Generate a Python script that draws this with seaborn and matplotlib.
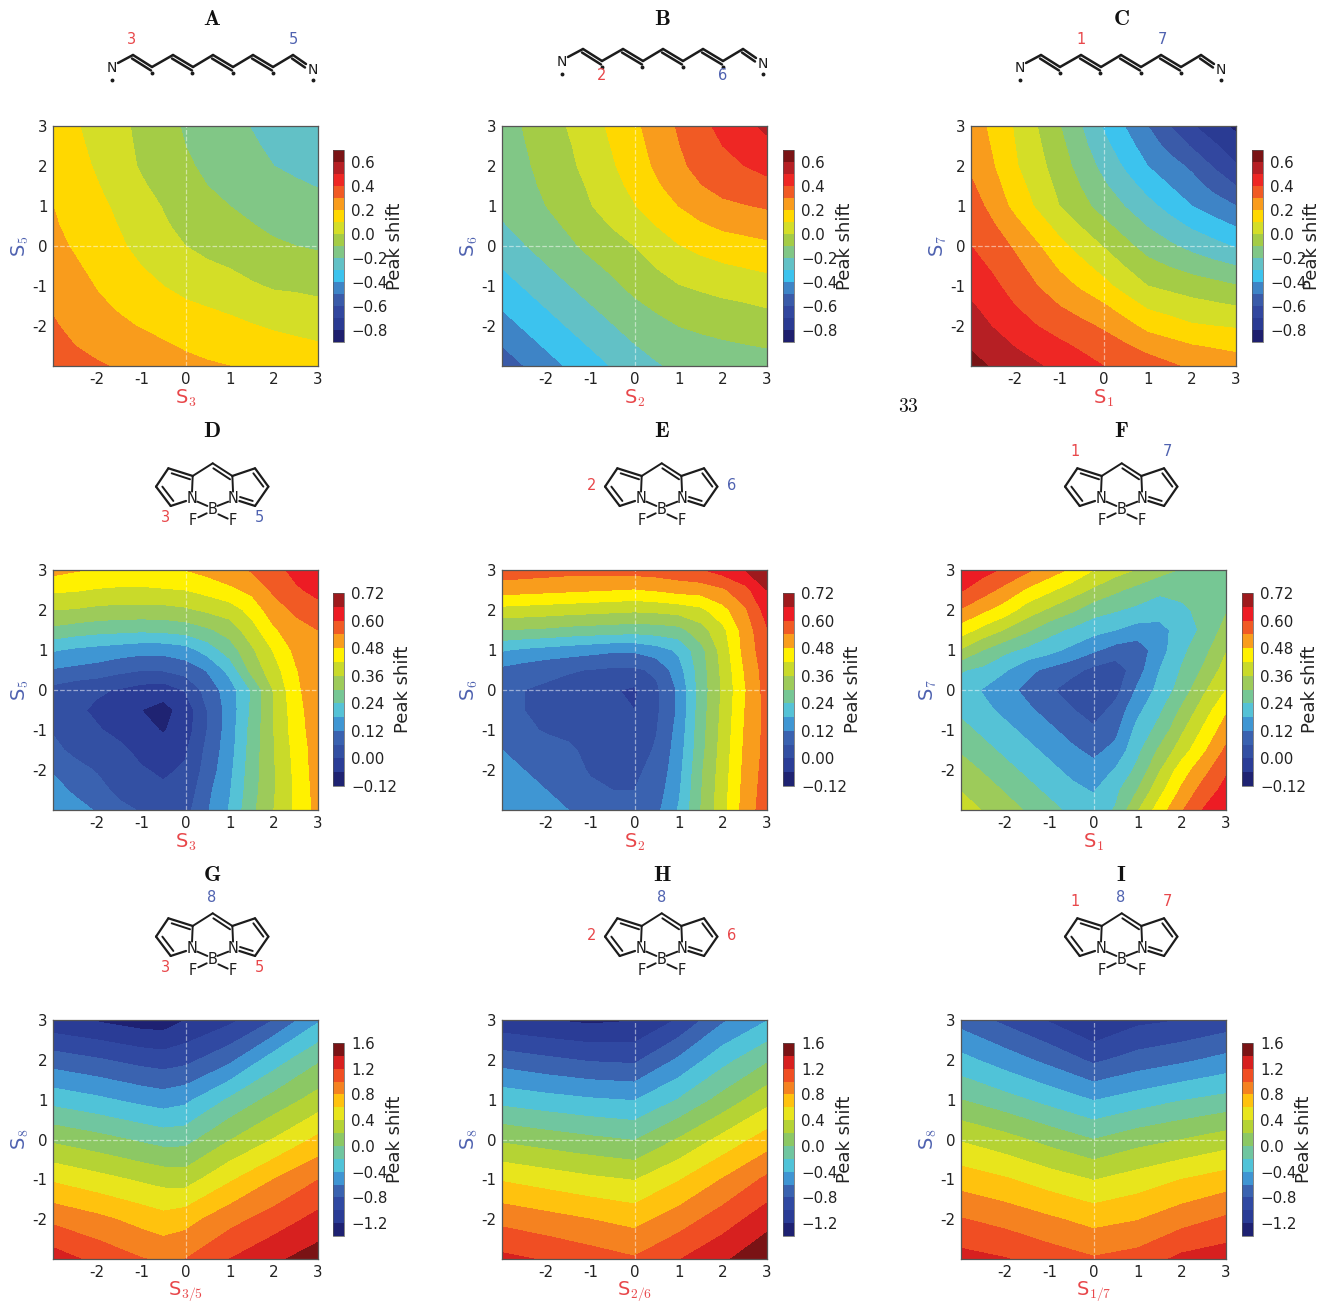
import numpy as np
import matplotlib
matplotlib.use("Agg")
import matplotlib.pyplot as plt
import seaborn as sns

# axis grids
S_INT = [-3, -2, -1, 0, 1, 2, 3]
S_HALF = [-3, -2.5, -2, -1.5, -1, -0.5, 0, 0.5, 1, 1.5, 2, 2.5, 3]
S_G = [-3, -2, -1, -0.5, 0, 1, 2, 3]
S_ROWS_INT = [3, 2, 1, 0, -1, -2, -3]
S_ROWS_HALF = [3, 2.5, 2, 1.5, 1, 0.5, 0, -0.5, -1, -1.5, -2, -2.5, -3]

# peak shift, rows from top (y=3) to bottom (y=-3)
Z_A = [[.15, .108, .07, .02, -.02, -.07, -.11, -.145, -.175, -.203, -.23, -.252, -.27],
       [.155, .118, .08, .03, -.017, -.06, -.10, -.133, -.163, -.19, -.215, -.235, -.252],
       [.165, .13, .09, .04, -.01, -.05, -.085, -.12, -.15, -.175, -.2, -.215, -.23],
       [.18, .145, .105, .06, .012, -.03, -.068, -.10, -.125, -.15, -.175, -.19, -.203],
       [.2, .165, .125, .08, .035, -.005, -.045, -.075, -.10, -.125, -.15, -.163, -.175],
       [.21, .175, .14, .097, .05, .012, -.025, -.05, -.075, -.095, -.12, -.13, -.145],
       [.225, .19, .155, .115, .07, .03, 0, -.025, -.045, -.065, -.085, -.1, -.11],
       [.245, .21, .175, .14, .10, .065, .03, .012, -.005, -.03, -.05, -.06, -.07],
       [.27, .23, .195, .165, .13, .10, .07, .05, .035, .01, -.01, -.015, -.025],
       [.29, .25, .215, .19, .165, .14, .115, .097, .08, .06, .04, .03, .02],
       [.31, .275, .24, .215, .195, .175, .155, .14, .125, .105, .09, .08, .07],
       [.335, .30, .275, .25, .23, .21, .19, .175, .165, .145, .13, .118, .108],
       [.36, .335, .31, .29, .27, .245, .225, .21, .2, .18, .165, .155, .15]]

Z_B = [[-.145, -.095, -.045, .005, .06, .12, .18, .245, .31, .37, .43, .475, .52],
       [-.15, -.105, -.06, -.01, .045, .105, .165, .23, .295, .355, .40, .44, .475],
       [-.16, -.115, -.07, -.02, .03, .09, .15, .215, .28, .33, .37, .40, .43],
       [-.17, -.125, -.085, -.04, .012, .068, .125, .185, .245, .295, .33, .35, .37],
       [-.18, -.14, -.10, -.055, -.005, .045, .095, .15, .2, .245, .28, .295, .31],
       [-.21, -.17, -.13, -.088, -.04, .005, .05, .10, .15, .185, .215, .23, .245],
       [-.245, -.205, -.165, -.12, -.075, -.04, 0, .05, .095, .125, .15, .165, .18],
       [-.295, -.25, -.205, -.16, -.12, -.08, -.04, .005, .045, .07, .09, .105, .12],
       [-.34, -.295, -.25, -.205, -.16, -.12, -.075, -.04, -.005, .015, .03, .045, .06],
       [-.39, -.34, -.295, -.25, -.205, -.165, -.12, -.085, -.055, -.04, -.02, -.01, .005],
       [-.44, -.39, -.34, -.295, -.25, -.205, -.165, -.13, -.1, -.085, -.07, -.055, -.045],
       [-.5, -.44, -.39, -.34, -.295, -.25, -.205, -.17, -.14, -.125, -.115, -.105, -.095],
       [-.56, -.5, -.44, -.39, -.34, -.295, -.245, -.21, -.18, -.17, -.16, -.15, -.145]]

Z_C = [[.25, .175, .09, 0, -.095, -.2, -.31, -.405, -.5, -.6, -.69, -.76, -.82],
       [.265, .19, .10, .017, -.07, -.17, -.27, -.36, -.45, -.53, -.61, -.685, -.76],
       [.28, .205, .11, .035, -.05, -.14, -.23, -.315, -.40, -.46, -.52, -.61, -.69],
       [.315, .235, .14, .06, -.025, -.105, -.185, -.26, -.335, -.40, -.46, -.53, -.60],
       [.35, .265, .17, .085, 0, -.07, -.14, -.205, -.27, -.335, -.40, -.45, -.50],
       [.375, .31, .23, .15, .065, -.005, -.075, -.14, -.205, -.26, -.315, -.36, -.405],
       [.40, .35, .285, .21, .13, .06, -.005, -.075, -.14, -.185, -.23, -.27, -.31],
       [.435, .385, .325, .26, .185, .125, .06, -.005, -.07, -.105, -.14, -.17, -.20],
       [.47, .42, .36, .30, .24, .185, .13, .06, 0, -.025, -.05, -.07, -.095],
       [.51, .46, .40, .35, .30, .255, .21, .15, .085, .06, .035, .017, 0],
       [.55, .495, .44, .40, .36, .325, .285, .23, .17, .14, .11, .10, .09],
       [.59, .545, .495, .455, .42, .385, .35, .31, .265, .235, .205, .19, .175],
       [.63, .59, .55, .51, .47, .435, .40, .375, .35, .315, .28, .265, .25]]

Z_D = [[.50, .485, .475, .47, .465, .47, .48, .50, .525, .545, .575, .62, .65],
       [.43, .425, .415, .41, .41, .415, .42, .44, .465, .495, .55, .59, .62],
       [.36, .355, .345, .34, .34, .34, .35, .37, .39, .44, .515, .55, .575],
       [.285, .27, .26, .255, .25, .255, .265, .29, .325, .395, .47, .52, .54],
       [.185, .17, .16, .15, .14, .14, .155, .205, .27, .35, .425, .495, .535],
       [.115, .105, .095, .075, .062, .065, .085, .125, .20, .32, .395, .475, .53],
       [.04, .02, .008, -.005, -.025, -.035, .005, .085, .15, .245, .365, .465, .525],
       [.04, .01, -.01, -.025, -.06, -.08, -.035, .062, .145, .25, .36, .455, .52],
       [.055, .025, .005, -.015, -.04, -.065, -.03, .062, .15, .26, .36, .45, .515],
       [.075, .045, .03, .012, -.015, -.035, -.008, .075, .155, .265, .358, .44, .51],
       [.115, .08, .055, .03, .005, -.01, .008, .085, .165, .27, .355, .435, .51],
       [.14, .11, .08, .045, .025, .01, .02, .105, .175, .275, .355, .43, .505],
       [.165, .14, .115, .075, .055, .04, .04, .115, .185, .285, .36, .43, .50]]

Z_E = [[.575, .57, .565, .56, .56, .56, .565, .57, .58, .595, .625, .66, .71],
       [.505, .50, .495, .49, .485, .48, .475, .485, .50, .505, .53, .58, .66],
       [.40, .395, .39, .385, .38, .375, .37, .375, .385, .405, .46, .53, .625],
       [.30, .295, .29, .28, .275, .27, .265, .27, .28, .335, .405, .505, .595],
       [.185, .17, .16, .15, .14, .13, .13, .155, .19, .28, .385, .50, .58],
       [.105, .09, .075, .065, .058, .05, .05, .07, .155, .27, .375, .485, .57],
       [.08, .06, .05, .04, .03, .005, -.01, .05, .13, .265, .37, .475, .565],
       [.075, .06, .045, .035, .025, .008, 0, .05, .13, .27, .375, .48, .56],
       [.085, .07, .055, .045, .03, .025, .03, .058, .14, .275, .38, .485, .56],
       [.12, .095, .08, .07, .045, .035, .04, .065, .15, .28, .385, .49, .56],
       [.135, .12, .10, .08, .055, .045, .05, .075, .16, .29, .39, .495, .565],
       [.15, .135, .12, .095, .07, .06, .06, .09, .17, .295, .395, .50, .57],
       [.165, .15, .135, .12, .085, .075, .08, .105, .185, .30, .40, .505, .575]]

Z_F = [[.64, .62, .59, .55, .51, .47, .42, .385, .355, .32, .295, .28, .27],
       [.605, .565, .52, .47, .43, .39, .35, .31, .28, .255, .255, .265, .28],
       [.535, .49, .45, .39, .35, .31, .265, .245, .225, .20, .23, .255, .295],
       [.45, .40, .355, .31, .26, .23, .20, .18, .155, .165, .20, .255, .32],
       [.355, .30, .255, .225, .20, .165, .13, .095, .085, .155, .225, .28, .355],
       [.245, .225, .185, .135, .105, .08, .045, .025, .095, .18, .245, .31, .385],
       [.21, .175, .14, .105, .07, .03, -.002, .04, .13, .20, .265, .35, .42],
       [.225, .195, .165, .13, .10, .065, .03, .08, .165, .23, .31, .39, .47],
       [.26, .225, .195, .165, .13, .10, .07, .105, .20, .26, .35, .43, .51],
       [.293, .26, .225, .195, .165, .13, .105, .135, .225, .31, .39, .47, .55],
       [.325, .295, .26, .225, .195, .165, .14, .185, .255, .355, .45, .52, .59],
       [.357, .325, .295, .26, .225, .195, .175, .225, .30, .40, .49, .565, .62],
       [.39, .357, .325, .293, .26, .225, .21, .245, .355, .45, .535, .605, .64]]

Z_G = [[-1.15, -1.22, -1.30, -1.31, -1.20, -1.05, -.80, -.43],
       [-.70, -.78, -.87, -.90, -.86, -.65, -.30, -.03],
       [-.275, -.36, -.46, -.50, -.45, -.17, .07, .28],
       [.16, .07, -.03, -.08, -.07, .19, .41, .645],
       [.57, .47, .37, .325, .31, .57, .80, .995],
       [.95, .85, .73, .67, .72, .93, 1.09, 1.26],
       [1.30, 1.14, 1.01, .97, 1.0, 1.2, 1.36, 1.50]]

Z_H = [[-1.15, -1.20, -1.24, -1.21, -.98, -.63, -.41],
       [-.69, -.76, -.82, -.84, -.57, -.27, -.03],
       [-.27, -.33, -.38, -.41, -.19, .07, .33],
       [.165, .10, .04, -.01, .215, .46, .69],
       [.58, .51, .44, .39, .585, .81, 1.04],
       [.94, .87, .80, .73, .90, 1.10, 1.31],
       [1.25, 1.18, 1.10, 1.02, 1.19, 1.36, 1.58]]

Z_I = [[-.68, -.85, -1.02, -1.21, -1.05, -1.0, -.92],
       [-.34, -.5, -.66, -.84, -.72, -.64, -.54],
       [0, -.13, -.27, -.41, -.31, -.21, -.14],
       [.38, .27, .13, 0, .12, .2, .295],
       [.71, .62, .5, .39, .49, .6, .69],
       [1.01, .93, .83, .73, .79, .92, 1.03],
       [1.27, 1.21, 1.11, 1.02, 1.08, 1.25, 1.31]]

# contour levels and band colours, one set per row of panels
LEVELS_1 = [-.9, -.8, -.7, -.6, -.5, -.4, -.3, -.2, -.1, 0, .1, .2, .3, .4, .5, .6, .7]
LEVELS_2 = [-.12, -.06, 0, .06, .12, .18, .24, .30, .36, .42, .48, .54, .60, .66, .72]
LEVELS_3 = [-1.4, -1.2, -1, -.8, -.6, -.4, -.2, 0, .2, .4, .6, .8, 1, 1.2, 1.4, 1.6]
COLORS_1 = ['#1e1f6e', '#2a3b93', '#32479f', '#3a5ba9', '#3e84c6', '#3cc3ee', '#62c1c6', '#81c786',
            '#a4cc46', '#d4de27', '#ffd800', '#f99c1c', '#f15a24', '#ee2724', '#b61f24', '#7a1315']
COLORS_2 = ['#1f2372', '#2b3d97', '#3350a3', '#3a62b0', '#3f96d3', '#55c2d6', '#76c794',
            '#9dcb5a', '#c9da2a', '#fff100', '#f99d1c', '#f15a24', '#ed1c24', '#9e1a1d']
COLORS_3 = ['#1e2172', '#2a3c96', '#3049a2', '#3a63b0', '#3f95d3', '#50c3d8', '#70c6a0', '#8cc864',
            '#b5d334', '#e8e51c', '#ffc20e', '#f58220', '#f04e23', '#d7201f', '#7a1315']
TICKS_1 = [-.8, -.6, -.4, -.2, 0, .2, .4, .6]
TICKS_2 = [-.12, 0, .12, .24, .36, .48, .60, .72]
TICKS_3 = [-1.2, -.8, -.4, 0, .4, .8, 1.2, 1.6]

RED = '#e8474a'
BLUE = '#4f62b0'
W, H = 1320, 1303

sns.set_style("ticks")
plt.rcParams['axes.unicode_minus'] = False
plt.rcParams['mathtext.fontset'] = 'cm'
plt.rcParams['font.family'] = ['DejaVu Sans']

fig = plt.figure(figsize=(W / 100, H / 100), dpi=100)


def rect(x0, y0, x1, y1):
    return [x0 / W, 1 - y1 / H, (x1 - x0) / W, (y1 - y0) / H]


def panel(box, cbox, xs, ys, z, levels, colors, ticks, fmt, xlab, ylab, peak_x):
    ax = fig.add_axes(rect(*box))
    cs = ax.contourf(xs, ys[::-1], np.array(z)[::-1], levels=levels, colors=sns.color_palette(colors))
    ax.axhline(0, color='white', ls='--', lw=0.9, alpha=0.5)
    ax.axvline(0, color='white', ls='--', lw=0.9, alpha=0.5)
    ax.set_xlim(-3, 3)
    ax.set_ylim(-3, 3)
    ax.set_xticks([-2, -1, 0, 1, 2, 3])
    ax.set_yticks([-2, -1, 0, 1, 2, 3])
    ax.tick_params(direction='in', top=True, right=True, length=3, width=0.7, color='#666666',
                   labelsize=10.8, labelcolor='#222222', pad=4)
    for s in ax.spines.values():
        s.set_color('#555555')
        s.set_linewidth(0.9)
    ax.set_xlabel(xlab, color=RED, fontsize=14, va='center')
    ax.xaxis.set_label_coords(0.5, -32 / (box[3] - box[1]))
    ax.set_ylabel(ylab, color=BLUE, fontsize=14, va='center')
    ax.yaxis.set_label_coords(-33 / (box[2] - box[0]), 0.5)

    cax = fig.add_axes(rect(*cbox))
    cb = fig.colorbar(cs, cax=cax, ticks=ticks)
    cb.ax.set_yticklabels([fmt % t if t >= 0 else '\u2212' + fmt % abs(t) for t in ticks])
    cb.ax.tick_params(length=0, labelsize=10.8, labelcolor='#222222', pad=5)
    cb.outline.set_linewidth(0.5)
    cb.outline.set_edgecolor('#555555')
    cax.set_ylabel('Peak shift', fontsize=13, color='#222222', va='center')
    cax.yaxis.set_label_coords(peak_x / 11, 0.5)


PLOT_X = [(53, 318), (502, 767), (971, 1236)]
PLOT_X2 = [(53, 318), (502, 767), (961, 1226)]
CBAR_X = [(333, 344), (783, 794), (1252, 1263)]
CBAR_X2 = [(333, 344), (783, 794), (1242, 1253)]

row1 = [(Z_A, 'S$_{3}$', 'S$_{5}$', 62), (Z_B, 'S$_{2}$', 'S$_{6}$', 62), (Z_C, 'S$_{1}$', 'S$_{7}$', 60)]
row2 = [(Z_D, 'S$_{3}$', 'S$_{5}$', 70), (Z_E, 'S$_{2}$', 'S$_{6}$', 70), (Z_F, 'S$_{1}$', 'S$_{7}$', 68)]
row3 = [(Z_G, 'S$_{3/5}$', 'S$_{8}$', 62), (Z_H, 'S$_{2/6}$', 'S$_{8}$', 62), (Z_I, 'S$_{1/7}$', 'S$_{8}$', 62)]

for i, (z, xl, yl, px) in enumerate(row1):
    panel((PLOT_X[i][0], 126, PLOT_X[i][1], 366), (CBAR_X[i][0], 150, CBAR_X[i][1], 342),
          S_HALF, S_ROWS_HALF, z, LEVELS_1, COLORS_1, TICKS_1, '%.1f', xl, yl, px)

for i, (z, xl, yl, px) in enumerate(row2):
    panel((PLOT_X2[i][0], 570, PLOT_X2[i][1], 810), (CBAR_X2[i][0], 593, CBAR_X2[i][1], 786),
          S_HALF, S_ROWS_HALF, z, LEVELS_2, COLORS_2, TICKS_2, '%.2f', xl, yl, px)

for i, (z, xl, yl, px) in enumerate(row3):
    xs = S_G if i == 0 else S_INT
    panel((PLOT_X2[i][0], 1020, PLOT_X2[i][1], 1259), (CBAR_X2[i][0], 1043, CBAR_X2[i][1], 1236),
          xs, S_ROWS_INT, z, LEVELS_3, COLORS_3, TICKS_3, '%.1f', xl, yl, px)

# overlay in pixel coordinates for the molecule sketches and panel letters
over = fig.add_axes([0, 0, 1, 1], facecolor='none')
over.set_xlim(0, W)
over.set_ylim(H, 0)
over.axis('off')
INK = '#1c1c1c'


def bond(p, q, lw=1.5):
    over.plot([p[0], q[0]], [p[1], q[1]], color=INK, lw=lw, solid_capstyle='round')


def chain(dx, dy):
    pts = [(118, 63), (133, 55), (152, 67), (173, 55), (193, 67), (213, 55),
           (233, 67), (253, 55), (273, 67), (293, 55), (306, 64)]
    for k in range(len(pts) - 1):
        p = (pts[k][0] + dx, pts[k][1] + dy)
        q = (pts[k + 1][0] + dx, pts[k + 1][1] + dy)
        bond(p, q, 1.8)
        if k % 2 == 1:
            bond((p[0] - 1, p[1] + 3.5), (q[0] - 1, q[1] + 3.5), 1.8)
    over.text(112 + dx, 68 + dy, 'N', fontsize=10, ha='center', va='center', color=INK)
    over.text(313 + dx, 70 + dy, 'N', fontsize=10, ha='center', va='center', color=INK)
    for px, py in [(112, 80), (152, 72.5), (192, 72.5), (233, 72.5), (273, 72.5), (313, 80)]:
        over.plot(px + dx, py + dy, 'o', ms=1.8, color=INK)


def bodipy(cx, cy):
    def at(zx, zy):
        return (cx + (zx - 638) / 3, cy + (zy - 130) / 3)
    outline = [(578, 168), (505, 145), (468, 200), (512, 258), (558, 243)]
    for a, b in zip(outline[:-1], outline[1:]):
        bond(at(*a), at(*b), 1.6)
    outline = [(697, 168), (765, 145), (805, 200), (765, 258), (718, 243)]
    for a, b in zip(outline[:-1], outline[1:]):
        bond(at(*a), at(*b), 1.6)
    for a, b in [((578, 168), (638, 130)), ((638, 130), (697, 168)),
                 ((578, 168), (576, 215)), ((697, 168), (699, 215)),
                 ((515, 160), (570, 178)), ((487, 200), (520, 243)),
                 ((640, 145), (690, 178)), ((760, 160), (790, 200)),
                 ((758, 243), (720, 231)),
                 ((592, 245), (622, 258)), ((652, 258), (685, 245)),
                 ((620, 280), (595, 292)), ((655, 283), (683, 296))]:
        bond(at(*a), at(*b), 1.4)
    for zx, zy, s in [(576, 235, 'N'), (700, 235, 'N'), (637, 268, 'B'), (577, 303, 'F'), (697, 303, 'F')]:
        px, py = at(zx, zy)
        over.text(px, py, s, fontsize=10.5, ha='center', va='center', color=INK)


chain(0, 0)
chain(450, -6)
chain(908, 0)
for x, y in [(212.7, 463.3), (661.7, 463.3), (1121.7, 463.3), (212.7, 913.3), (661.7, 913.3), (1121.7, 913.3)]:
    bodipy(x, y)

# site numbers on the molecules
SITE_LABELS = [(132, 40, '3', RED), (293, 40, '5', BLUE), (602, 76, '2', RED), (723, 76, '6', BLUE),
               (1081, 40, '1', RED), (1162, 40, '7', BLUE), (166, 518, '3', RED), (259, 518, '5', BLUE),
               (592, 485, '2', RED), (732, 485, '6', BLUE), (1075, 452, '1', RED), (1167, 452, '7', BLUE),
               (212, 897, '8', BLUE), (166, 968, '3', RED), (259, 968, '5', RED),
               (662, 897, '8', BLUE), (592, 936, '2', RED), (732, 936, '6', RED),
               (1075, 902, '1', RED), (1121, 897, '8', BLUE), (1167, 902, '7', RED)]
for x, y, s, c in SITE_LABELS:
    over.text(x, y, s, color=c, fontsize=10.5, ha='center', va='center')

PANEL_LETTERS = [(212, 19, 'A'), (662, 19, 'B'), (1121, 19, 'C'), (212, 431, 'D'), (662, 431, 'E'),
                 (1121, 431, 'F'), (212, 875, 'G'), (662, 875, 'H'), (1121, 875, 'I')]
for x, y, s in PANEL_LETTERS:
    over.text(x, y, r'$\mathbf{%s}$' % s, color='#111111', fontsize=16, ha='center', va='center')
over.text(908, 407, '$33$', color='#111111', fontsize=14, ha='center', va='center')

fig.savefig('out.png', dpi=100)
